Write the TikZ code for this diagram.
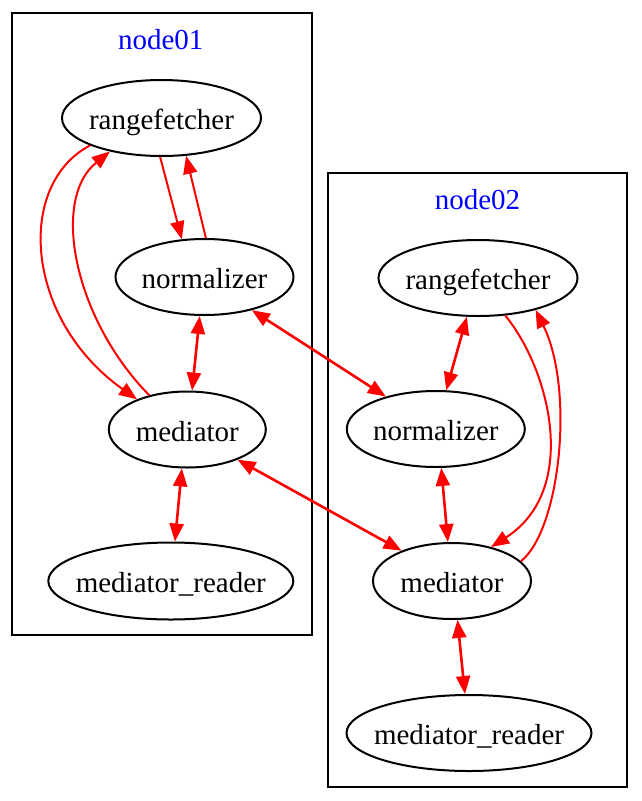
\documentclass[tikz,border=0pt]{standalone}
\usepackage{fontspec}
\setmainfont{Liberation Serif}
\usetikzlibrary{shapes.geometric,arrows.meta}
\begin{document}
\begin{tikzpicture}[x=1pt,y=-1pt,
  gnode/.style={ellipse, draw=black, line width=2pt, inner sep=0pt, font=\fontsize{29}{34}\selectfont, text height=25pt, text depth=2pt},
  cluster/.style={draw=black, line width=2pt, inner sep=0pt, rectangle},
  clabel/.style={text=blue, font=\fontsize{29}{34}\selectfont, anchor=base, inner sep=0pt},
  oneway/.style={draw=red, line width=2pt, -{Triangle[length=18pt,width=14pt]}},
  twoway/.style={draw=red, line width=2.6pt, {Triangle[length=18pt,width=14pt]}-{Triangle[length=18pt,width=14pt]}},
]
\useasboundingbox (0,0) rectangle (641,801);
% clusters
\node[cluster, minimum width=299.4pt, minimum height=621.7pt] (c1) at (162,324.2) {};
\node[cluster, minimum width=298.4pt, minimum height=613.7pt] (c2) at (477.5,480.2) {};
\node[clabel] (l1) at (160.8,49.5) {node01};
\node[clabel] (l2) at (477.5,209.3) {node02};
% nodes node01
\node[gnode, minimum width=199pt, minimum height=76pt] (rf1) at (161.5,118) {\makebox[0pt]{rangefetcher}};
\node[gnode, minimum width=178pt, minimum height=76pt] (nz1) at (204.5,277) {\makebox[0pt]{normalizer}};
\node[gnode, minimum width=157pt, minimum height=76pt] (md1) at (187.3,429.5) {\makebox[0pt]{mediator}};
\node[gnode, minimum width=245pt, minimum height=77pt] (mr1) at (170.8,581) {\makebox[0pt]{mediator\_reader}};
% nodes node02
\node[gnode, minimum width=199pt, minimum height=76pt] (rf2) at (478,278) {\makebox[0pt]{rangefetcher}};
\node[gnode, minimum width=178pt, minimum height=76pt] (nz2) at (435.8,429) {\makebox[0pt]{normalizer}};
\node[gnode, minimum width=158pt, minimum height=76pt] (md2) at (452,581) {\makebox[0pt]{mediator}};
\node[gnode, minimum width=245pt, minimum height=76pt] (mr2) at (469,733) {\makebox[0pt]{mediator\_reader}};
% edges node01
\draw[oneway] (rf1.268) -- (nz1.121);
\draw[oneway] (nz1.88) -- (rf1.303);
\draw[oneway] (rf1.201) .. controls (15,185) and (25,320) .. (md1.149);
\draw[oneway] (md1.138) .. controls (75,320) and (50,200) .. (rf1.213);
\draw[twoway] (nz1.263) -- (md1.83);
\draw[twoway] (md1.262) -- (mr1.84);
% cross edges
\draw[twoway] (nz1.325) -- (nz2.147);
\draw[twoway] (md1.329) -- (md2.149);
% edges node02
\draw[twoway] (rf2.254) -- (nz2.75);
\draw[oneway] (rf2.306) .. controls (550,370) and (580,490) .. (md2.41);
\draw[oneway] (md2.16) .. controls (560,530) and (575,390) .. (rf2.331);
\draw[twoway] (nz2.278) -- (md2.96);
\draw[twoway] (md2.278) -- (mr2.96);
\end{tikzpicture}
\end{document}
